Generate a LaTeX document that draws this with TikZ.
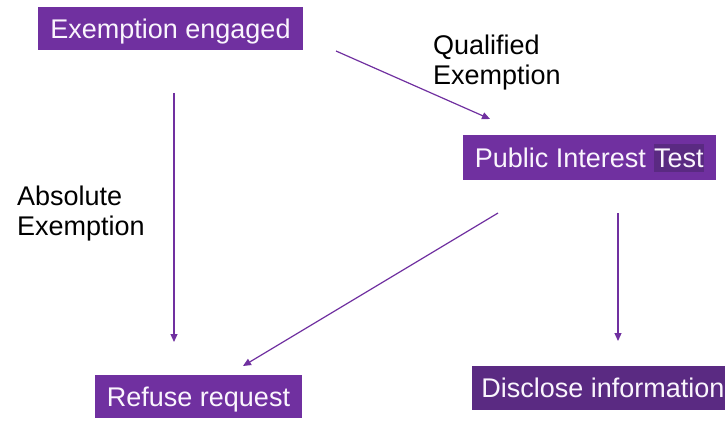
\documentclass[tikz,border=0pt]{standalone}
\usepackage{fontspec}
\setmainfont{Liberation Sans}
\usetikzlibrary{arrows.meta}
\definecolor{pp}{HTML}{7030A0}
\definecolor{dp}{HTML}{5A2A82}
\definecolor{wt}{HTML}{FAF5FD}
\tikzset{
  box/.style={fill=#1, text=wt, font=\fontsize{27pt}{30pt}\selectfont, inner sep=0pt,
    text height=19.3pt, text depth=0pt, align=center},
  box/.default=pp,
  lbl/.style={font=\fontsize{27pt}{30pt}\selectfont, inner sep=0pt, align=left, anchor=base west, text=black},
  arr/.style={draw=pp, line width=1.2pt, -{Triangle[length=8pt,width=7pt]}}
}
\begin{document}
\begin{tikzpicture}[x=1pt,y=-1pt]
\useasboundingbox (0,0) rectangle (725,422);
\node[box, minimum width=265pt, minimum height=43pt] (ee) at (170.5,28.5) {Exemption engaged};
\node[box, minimum width=253pt, minimum height=45pt] (pit) at (589.5,157.5) {Public Interest {\setlength\fboxsep{0.5pt}\colorbox{dp}{\rule[-4pt]{0pt}{27pt}Test}}};
\node[box, minimum width=207pt, minimum height=43pt] (rr) at (198.5,396.5) {Refuse request};
\node[box=dp, minimum width=262pt, minimum height=44pt] (di) at (603,388) {Disclose information};
\node[lbl] (ql) at (433,85) {Qualified\\Exemption};
\node[lbl] (al) at (17,235) {Absolute\\Exemption};
\coordinate (a1s) at (174,93);
\coordinate (a1e) at (174,342);
\coordinate (a2s) at (336,51);
\coordinate (a2e) at (490,119);
\coordinate (a3s) at (498,213);
\coordinate (a3e) at (243,366);
\coordinate (a4s) at (618,213);
\coordinate (a4e) at (618,341);
\draw[arr] (a1s) -- (a1e);
\draw[arr] (a2s) -- (a2e);
\draw[arr] (a3s) -- (a3e);
\draw[arr] (a4s) -- (a4e);
\end{tikzpicture}
\end{document}
